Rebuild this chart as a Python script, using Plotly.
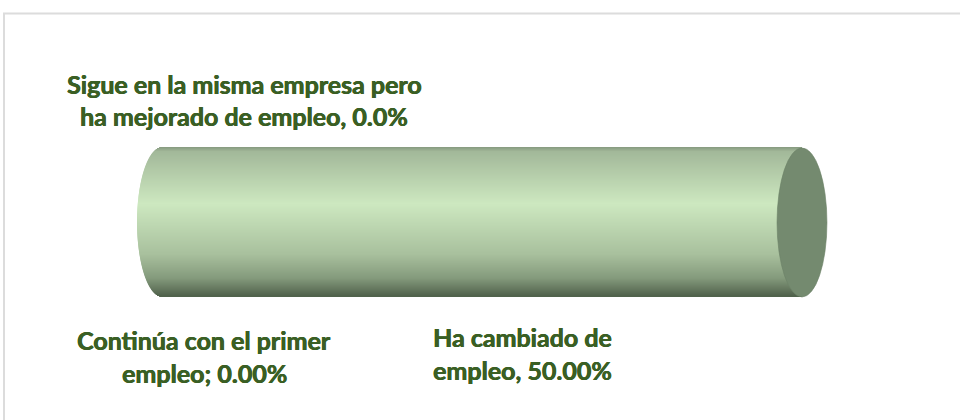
import numpy as np
import plotly.graph_objects as go

# ---- data ----
categories = ["Continúa con el primer empleo",
              "Ha cambiado de empleo",
              "Sigue en la misma empresa pero ha mejorado de empleo"]
values = [0.0, 50.0, 0.0]
label_lines = [["Continúa con el primer", "empleo; 0.00%"],
               ["Ha cambiado de", "empleo, 50.00%"],
               ["Sigue en la misma empresa pero", "ha mejorado de empleo, 0.0%"]]

# ---- styling / layout constants ----
W, H = 960, 420
x_range = [-162 / 12.8, (W - 162) / 12.8]
cyl_top, cyl_bot = 148.0, 297.0
cap_rx = 1.95  # ellipse half-width in x units
text_color = "#3A5F24"
cap_color = "#748A6F"

stops = [(0.0, (0x86, 0x9A, 0x7F)), (0.03, (0xA2, 0xB8, 0x99)), (0.38, (0xCD, 0xE8, 0xC0)),
         (0.72, (0xA8, 0xC0, 0x9D)), (0.88, (0x84, 0x9A, 0x7C)), (1.0, (0x50, 0x61, 0x4B))]


def grad(t):
    for (p0, c0), (p1, c1) in zip(stops[:-1], stops[1:]):
        if p0 <= t <= p1:
            f = (t - p0) / (p1 - p0)
            c = [round(a + (b - a) * f) for a, b in zip(c0, c1)]
            return "rgb(%d,%d,%d)" % tuple(c)
    return "rgb(%d,%d,%d)" % stops[-1][1]


fig = go.Figure()

n_bands = int(cyl_bot - cyl_top)
band_h = (cyl_bot - cyl_top) / n_bands
yc = cyl_top + band_h * (np.arange(n_bands) + 0.5)
ry = (cyl_bot - cyl_top) / 2
ymid = (cyl_top + cyl_bot) / 2
tn = (yc - ymid) / ry
curve = cap_rx * np.sqrt(np.clip(1 - tn ** 2, 0, 1))
colors = [grad((y - cyl_top) / (cyl_bot - cyl_top)) for y in yc]

cum = np.cumsum(values)
starts = cum - np.array(values)
for i, v in enumerate(values):
    if v <= 0:
        continue
    left = starts[i] - (curve if starts[i] == 0 else 0)
    fig.add_trace(go.Bar(
        orientation="h", y=yc, base=left, x=cum[i] - left,
        width=band_h * 1.15,
        marker=dict(color=colors, line=dict(width=0)),
        hoverinfo="skip", showlegend=False, name=categories[i]))

total = cum[-1]
fig.add_shape(type="circle", xref="x", yref="y",
              x0=total - cap_rx, x1=total + cap_rx, y0=cyl_top, y1=cyl_bot,
              fillcolor=cap_color, line=dict(color="#6C8267", width=0.6), layer="above")

# chart border
fig.add_shape(type="rect", xref="paper", yref="paper",
              x0=4 / W, x1=1.02, y0=-0.05, y1=1 - 13.5 / H,
              line=dict(color="#DCDCDC", width=2), fillcolor="rgba(0,0,0,0)")

# data labels
label_pos = [(204, [340, 373]), (522, [337, 370]), (244, [84, 116])]
for lines, (cx, ys) in zip(label_lines, label_pos):
    for line, yy in zip(lines, ys):
        fig.add_annotation(x=cx / W, y=1 - yy / H, xref="paper", yref="paper",
                           text="<b>%s</b>" % line, showarrow=False,
                           xanchor="center", yanchor="middle",
                           font=dict(family="Lato, Open Sans, sans-serif", size=25, color=text_color,
                                     shadow="0.45px 0 0 %s, -0.2px 0 0 %s" % (text_color, text_color)))

fig.update_layout(
    width=W, height=H, margin=dict(l=0, r=0, t=0, b=0),
    paper_bgcolor="white", plot_bgcolor="white",
    barmode="overlay",
    xaxis=dict(range=x_range, visible=False, fixedrange=True),
    yaxis=dict(range=[H, 0], visible=False, fixedrange=True),
    showlegend=False,
)

fig.write_html("out.html", config={"displayModeBar": False},
               post_script="document.body.style.margin='0';document.body.style.overflow='hidden';")
